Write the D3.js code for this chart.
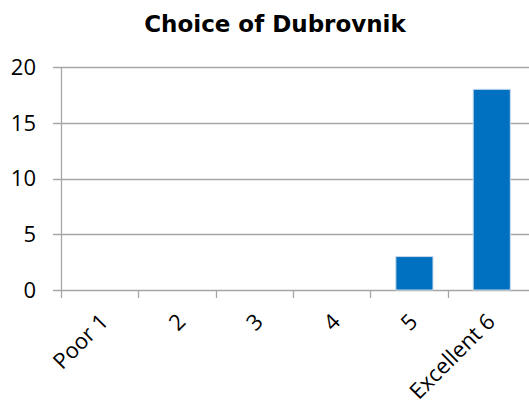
<!DOCTYPE html>
<html><head><meta charset="utf-8">
<script src="https://cdn.jsdelivr.net/npm/d3@7"></script>
<style>body{margin:0;background:#fff}svg{display:block}</style>
</head><body>
<script>
const categories = ["Poor 1","2","3","4","5","Excellent 6"];
const values = [0,0,0,0,3,18];
const yTicks = [0,5,10,15,20];
const title = "Choice of Dubrovnik";

(function(){
const W=529,H=407;
const svg=d3.select("body").append("svg").attr("width",W).attr("height",H);
const mL=61,mR=525,mT=67,mB=290;
const x=d3.scaleBand().domain(categories).range([mL,mR]);
const y=d3.scaleLinear().domain([0,20]).range([mB,mT]);
const grid="#a6a6a6";

svg.append("text").attr("x",275).attr("y",32).attr("text-anchor","middle")
  .attr("font-family","DejaVu Sans").attr("font-weight","bold").attr("font-size",23)
  .attr("fill","#000").text(title);

svg.append("g").selectAll("line").data(yTicks).join("line")
  .attr("x1",mL-8).attr("x2",W).attr("y1",d=>Math.round(y(d))+0.5).attr("y2",d=>Math.round(y(d))+0.5)
  .attr("stroke",grid).attr("stroke-width",1.3);
svg.append("line").attr("x1",mL+0.5).attr("x2",mL+0.5).attr("y1",mT).attr("y2",mB+8)
  .attr("stroke",grid).attr("stroke-width",1.3);
svg.append("g").selectAll("line").data(categories.slice(1)).join("line")
  .attr("x1",d=>Math.round(x(d))+0.5).attr("x2",d=>Math.round(x(d))+0.5)
  .attr("y1",mB).attr("y2",mB+8).attr("stroke",grid).attr("stroke-width",1.3);

svg.append("g").selectAll("text").data(yTicks).join("text")
  .attr("x",36).attr("y",d=>y(d)).attr("dy","0.36em").attr("text-anchor","end")
  .attr("font-family","Open Sans").attr("font-size",22).attr("fill","#000").text(d=>d);

const bw=x.bandwidth();
svg.append("g").selectAll("rect").data(categories.map((c,i)=>({c,v:values[i]})).filter(d=>d.v>0)).join("rect")
  .attr("x",d=>x(d.c)+bw*0.33).attr("width",bw*0.48)
  .attr("y",d=>y(d.v)).attr("height",d=>y(0)-y(d.v))
  .attr("fill","#0070C0").attr("stroke","#c9d9ea").attr("stroke-width",1);

svg.append("g").selectAll("text").data(categories).join("text")
  .attr("transform",d=>`translate(${x(d)+bw/2+10},${mB+33}) rotate(-45)`)
  .attr("text-anchor","end").attr("font-family","Open Sans").attr("font-size",22)
  .attr("fill","#000").text(d=>d);
})();
</script>
</body></html>
